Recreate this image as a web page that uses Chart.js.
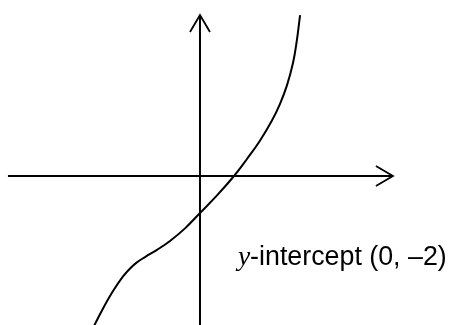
<!DOCTYPE html>
<html>
<head>
    <title>y-intercept graph</title>
    <script src="https://cdn.jsdelivr.net/npm/chart.js"></script>
    <style>
        body { margin: 0; background: #fff; }
        #wrap { width: 449px; height: 325px; position: relative; }
    </style>
</head>
<body>
    <div id="wrap"><canvas id="graph"></canvas></div>

    <script>
        // curve points (graph units)
        const curveX = [-5.73, -5.24, -4.70, -4.16, -3.78, -3.41, -2.97, -2.32, -1.62, -0.81, 0, 0.92, 1.84, 2.54, 3.24, 3.89, 4.32, 4.70, 5.03, 5.24, 5.41];
        const curveY = [-8.11, -7.16, -6.22, -5.43, -5.0, -4.67, -4.38, -3.99, -3.51, -2.83, -2.0, -1.05, 0, 0.92, 1.91, 3.0, 3.89, 4.90, 6.12, 7.36, 8.70];

        // axes with arrow heads
        const xAxisX = [-10.38, 10.43];
        const xAxisY = [0, 0];
        const yAxisX = [0, 0];
        const yAxisY = [-8.2, 8.70];
        const rightArrowX = [9.51, 10.43, 9.51];
        const rightArrowY = [0.54, 0, -0.54];
        const upArrowX = [-0.54, 0, 0.54];
        const upArrowY = [7.78, 8.70, 7.78];

        const label = 'y-intercept (0, \u20132)';

        const pts = (xs, ys) => xs.map((x, i) => ({ x: x, y: ys[i] }));

        const line = (xs, ys, extra) => Object.assign({
            data: pts(xs, ys),
            showLine: true,
            borderColor: '#000',
            borderWidth: 2,
            pointRadius: 0,
            fill: false,
            tension: 0
        }, extra || {});

        // label text, anchored at a graph position
        const labelPlugin = {
            id: 'labelPlugin',
            afterDatasetsDraw(chart) {
                const ctx = chart.ctx;
                const px = chart.scales.x.getPixelForValue(2.05);
                const py = chart.scales.y.getPixelForValue(-4.81);
                ctx.save();
                ctx.fillStyle = '#000';
                ctx.textBaseline = 'alphabetic';
                ctx.textAlign = 'left';
                ctx.font = 'italic 27.5px "Liberation Serif", "DejaVu Serif", serif';
                ctx.fillText(label[0], px, py);
                const w = ctx.measureText(label[0]).width;
                ctx.font = '26.8px "Liberation Sans", Arial, sans-serif';
                ctx.fillText(label.slice(1), px + w, py);
                ctx.restore();
            }
        };

        const ctx = document.getElementById('graph').getContext('2d');
        new Chart(ctx, {
            type: 'scatter',
            data: {
                datasets: [
                    line(xAxisX, xAxisY),
                    line(yAxisX, yAxisY),
                    line(rightArrowX, rightArrowY, { borderWidth: 1.8, borderJoinStyle: 'miter' }),
                    line(upArrowX, upArrowY, { borderWidth: 1.8, borderJoinStyle: 'miter' }),
                    line(curveX, curveY, { tension: 0.4 })
                ]
            },
            options: {
                responsive: true,
                maintainAspectRatio: false,
                animation: false,
                layout: { padding: 0 },
                plugins: {
                    legend: { display: false },
                    tooltip: { enabled: false }
                },
                scales: {
                    x: { type: 'linear', min: -10.81, max: 13.46, display: false },
                    y: { type: 'linear', min: -8.054, max: 9.514, display: false }
                }
            },
            plugins: [labelPlugin]
        });
    </script>
</body>
</html>
